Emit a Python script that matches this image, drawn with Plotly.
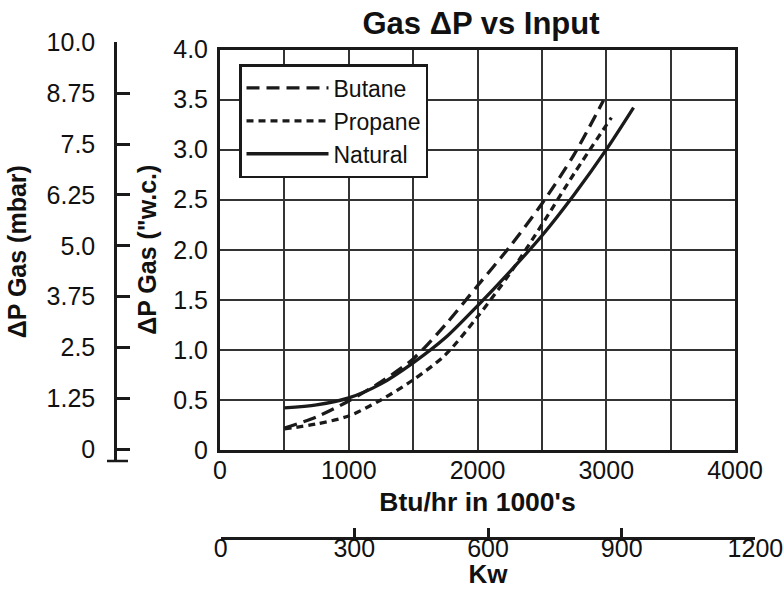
import plotly.graph_objects as go

W, H = 784, 589

# ---- data (kBtu/hr vs inches w.c.) ----
butane_x = [500, 750, 1000, 1250, 1500, 1750, 2000, 2250, 2500, 2750, 2978]
butane_y = [0.22, 0.33, 0.49, 0.68, 0.91, 1.25, 1.64, 2.03, 2.46, 2.95, 3.49]

propane_x = [500, 750, 1000, 1250, 1500, 1750, 2000, 2250, 2500, 2750, 3040]
propane_y = [0.21, 0.26, 0.34, 0.50, 0.70, 0.95, 1.33, 1.76, 2.25, 2.76, 3.32]

natural_x = [500, 750, 1000, 1250, 1500, 1750, 2000, 2250, 2500, 2750, 3000, 3212]
natural_y = [0.42, 0.45, 0.52, 0.66, 0.87, 1.12, 1.44, 1.78, 2.14, 2.55, 3.00, 3.42]

btu_grid = [0, 500, 1000, 1500, 2000, 2500, 3000, 3500, 4000]
btu_labels = ["0", "", "1000", "", "2000", "", "3000", "", "4000"]
wc_grid = [0, 0.5, 1.0, 1.5, 2.0, 2.5, 3.0, 3.5, 4.0]
wc_labels = ["0", "0.5", "1.0", "1.5", "2.0", "2.5", "3.0", "3.5", "4.0"]
kw_ticks = [0, 300, 600, 900, 1200]
kw_labels = ["0", "300", "600", "900", "1200"]
mbar_ticks = [0, 1.25, 2.5, 3.75, 5.0, 6.25, 7.5, 8.75, 10.0]
mbar_labels = ["0", "1.25", "2.5", "3.75", "5.0", "6.25", "7.5", "8.75", "10.0"]

FONT = "Liberation Sans, Arial, Helvetica, sans-serif"
INK = "#1a1a1a"


def px_x(p):
    return p / W


def px_y(p):
    return 1 - p / H


fig = go.Figure()

fig.add_trace(go.Scatter(x=butane_x, y=butane_y, name="Butane", mode="lines",
                         line=dict(color=INK, width=3.3, dash="13px,7px", shape="spline", smoothing=0.8)))
fig.add_trace(go.Scatter(x=propane_x, y=propane_y, name="Propane", mode="lines",
                         line=dict(color=INK, width=3.3, dash="7px,5px", shape="spline", smoothing=0.8)))
fig.add_trace(go.Scatter(x=natural_x, y=natural_y, name="Natural", mode="lines",
                         line=dict(color=INK, width=3.3, shape="spline", smoothing=0.8)))

# helper traces so the secondary scales are drawn
fig.add_trace(go.Scatter(x=[], y=[], xaxis="x2", yaxis="y3", showlegend=False, hoverinfo="skip"))
fig.add_trace(go.Scatter(x=[], y=[], xaxis="x3", yaxis="y2", showlegend=False, hoverinfo="skip"))

x_dom = [px_x(220), px_x(735)]
y_dom = [px_y(450), px_y(49.5)]

fig.update_layout(
    width=W, height=H,
    margin=dict(l=0, r=0, t=0, b=0, autoexpand=False),
    paper_bgcolor="white", plot_bgcolor="rgba(0,0,0,0)",
    font=dict(family=FONT, color="#111", size=25),
    title=dict(text="<b>Gas ΔP vs Input</b>", x=px_x(481), xanchor="center",
               y=px_y(23), yanchor="middle", font=dict(size=31, family=FONT, color="#111")),
    xaxis=dict(domain=x_dom, range=[0, 4000], anchor="y", automargin=False,
               tickvals=btu_grid, ticktext=btu_labels, ticks="",
               showgrid=True, gridcolor="#333", gridwidth=1.5, zeroline=False,
               showline=True, mirror=True, linecolor=INK, linewidth=3,
               tickfont=dict(size=25), ticklabelstandoff=-4,
               title=dict(text="<b>Btu/hr in 1000's</b>", font=dict(size=26.5), standoff=10)),
    yaxis=dict(domain=y_dom, range=[0, 4], anchor="x", automargin=False,
               tickvals=wc_grid, ticktext=wc_labels, ticks="",
               showgrid=True, gridcolor="#333", gridwidth=1.5, zeroline=False,
               showline=True, mirror=True, linecolor=INK, linewidth=3,
               tickfont=dict(size=25), ticklabelstandoff=4,
               title=dict(text='<b>ΔP Gas ("w.c.)</b>', font=dict(size=25), standoff=10)),
    xaxis2=dict(domain=[px_x(220.6), px_x(755.4)], range=[0, 1200], anchor="free",
                position=px_y(538), side="bottom", automargin=False,
                tickvals=kw_ticks, ticktext=kw_labels, ticks="inside", ticklen=9,
                tickwidth=2.5, tickcolor=INK, showgrid=False, zeroline=False,
                showline=True, linecolor=INK, linewidth=2.5, tickfont=dict(size=25),
                ticklabelstandoff=-13,
                title=dict(text="<b>Kw</b>", font=dict(size=26), standoff=22)),
    yaxis2=dict(domain=[px_y(461), px_y(42.3)], range=[-0.29, 10], anchor="free",
                position=px_x(115), side="left", automargin=False,
                tickvals=mbar_ticks, ticktext=mbar_labels, ticks="inside", ticklen=13,
                tickwidth=2.5, tickcolor=INK, showgrid=False, zeroline=False,
                showline=True, linecolor=INK, linewidth=2.5, tickfont=dict(size=25),
                ticklabelstandoff=14,
                title=dict(text="<b>ΔP Gas (mbar)</b>", font=dict(size=25), standoff=11)),
    xaxis3=dict(domain=x_dom, range=[0, 1], anchor="y2", visible=False, automargin=False),
    yaxis3=dict(domain=y_dom, range=[0, 1], anchor="x2", visible=False, automargin=False),
    legend=dict(x=px_x(239), y=px_y(64), xanchor="left", yanchor="top",
                bgcolor="white", bordercolor=INK, borderwidth=2.5,
                font=dict(size=23, family=FONT, color="#111"), itemwidth=82,
                tracegroupgap=0),
    showlegend=True,
    shapes=[dict(type="line", xref="paper", yref="paper",
                 x0=px_x(107), x1=px_x(128), y0=px_y(461), y1=px_y(461),
                 line=dict(color=INK, width=2.5))],
)

# remove the page's default 8px body margin so the figure fills the window exactly
fig.write_html("out.html", config={"displayModeBar": False},
               post_script="document.body.style.margin='0';")
